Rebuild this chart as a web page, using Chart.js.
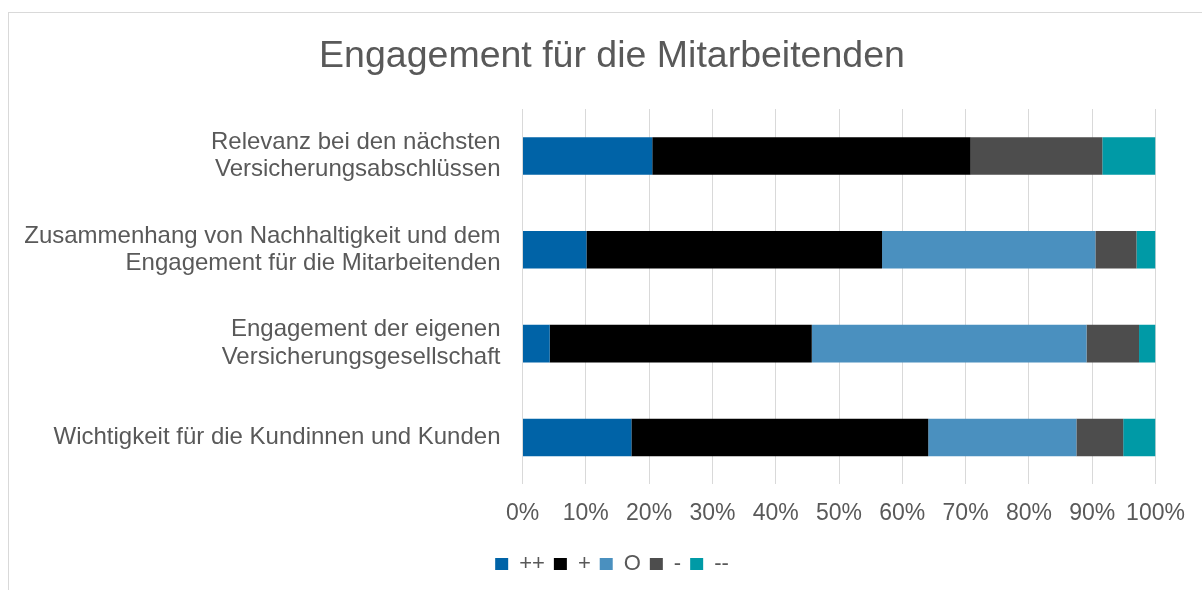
<!DOCTYPE html>
<html>
<head>
<meta charset="utf-8">
<script src="https://cdn.jsdelivr.net/npm/chart.js@4/dist/chart.umd.min.js"></script>
<style>
  html, body { margin: 0; padding: 0; background: #fff; }
  #wrap { width: 1202px; height: 590px; }
</style>
</head>
<body>
<div id="wrap"><canvas id="chart-area" width="1202" height="590"></canvas></div>
<script>
var categories = [
    ["Relevanz bei den nächsten", "Versicherungsabschlüssen"],
    ["Zusammenhang von Nachhaltigkeit und dem", "Engagement für die Mitarbeitenden"],
    ["Engagement der eigenen", "Versicherungsgesellschaft"],
    "Wichtigkeit für die Kundinnen und Kunden"
];
var seriesNames  = ["++", "+", "O", "-", "--"];
var veryPositive = [20.5, 10.1, 4.3, 17.2];
var positive     = [50.3, 46.7, 41.4, 46.9];
var neutral      = [0, 33.7, 43.4, 23.4];
var negative     = [20.8, 6.5, 8.3, 7.4];
var veryNegative = [8.4, 3.0, 2.6, 5.1];
var xTicks       = [0, 10, 20, 30, 40, 50, 60, 70, 80, 90, 100];

var colors = ["#0063a7", "#000000", "#4a90bf", "#4d4d4d", "#009aa6"];
var values = [veryPositive, positive, neutral, negative, veryNegative];
var fontFamily = "'Liberation Sans', Arial, sans-serif";
var textColor = "#595959";

var datasets = [];
for (var i = 0; i < seriesNames.length; ++i) {
    datasets.push({
        label: seriesNames[i],
        data: values[i],
        backgroundColor: colors[i],
        borderWidth: 0,
        barPercentage: 0.4,
        categoryPercentage: 1.0
    });
}

// light frame round the chart like the office export
var framePlugin = {
    id: 'frame',
    beforeDraw: function (chart) {
        var ctx = chart.ctx;
        ctx.save();
        ctx.fillStyle = "#fff";
        ctx.fillRect(0, 0, chart.width, chart.height);
        ctx.strokeStyle = "#d9d9d9";
        ctx.lineWidth = 1;
        ctx.strokeRect(8.5, 12.5, chart.width + 20, chart.height + 20);
        ctx.restore();
    },
    // long category labels run left of the axis box, so widen its clip area
    afterLayout: function (chart) {
        chart.scales.y.left = 0;
    }
};

var config = {
    type: 'bar',
    data: {
        labels: categories,
        datasets: datasets
    },
    options: {
        indexAxis: 'y',
        responsive: false,
        animation: false,
        layout: {
            padding: { left: 68.5, right: 46.5, top: 10, bottom: 5 }
        },
        plugins: {
            title: {
                display: true,
                text: "Engagement für die Mitarbeitenden",
                color: textColor,
                font: { family: fontFamily, size: 37.5, weight: 'normal' },
                padding: { top: 24, bottom: 30 }
            },
            legend: {
                position: 'bottom',
                labels: {
                    color: textColor,
                    font: { family: fontFamily, size: 22 },
                    boxWidth: 13,
                    boxHeight: 12,
                    padding: 9
                }
            },
            tooltip: { enabled: false }
        },
        scales: {
            x: {
                stacked: true,
                min: 0,
                max: 100,
                afterBuildTicks: function (scale) {
                    scale.ticks = xTicks.map(function (v) { return { value: v }; });
                },
                afterFit: function (scale) {
                    scale.height = 59.6;
                    scale.paddingLeft = 0;
                    scale.paddingRight = 0;
                },
                grid: { color: "#d9d9d9", drawTicks: false },
                border: { display: false },
                ticks: {
                    color: textColor,
                    font: { family: fontFamily, size: 23 },
                    padding: 15.5,
                    maxRotation: 0,
                    callback: function (v) { return v + "%"; }
                }
            },
            y: {
                stacked: true,
                afterFit: function (scale) { scale.width = 454; },
                grid: { display: false, drawTicks: false },
                border: { display: false },
                ticks: {
                    color: textColor,
                    font: { family: fontFamily, size: 24, lineHeight: 1.15 },
                    padding: 22
                }
            }
        }
    },
    plugins: [framePlugin]
};

var ctx = document.getElementById('chart-area').getContext('2d');
window.myBar = new Chart(ctx, config);
</script>
</body>
</html>
